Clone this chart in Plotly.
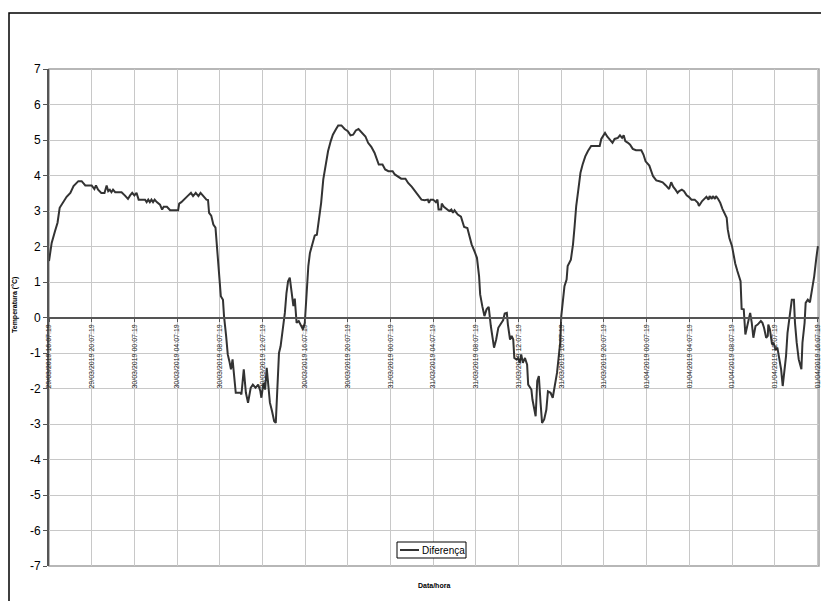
import plotly.graph_objects as go
from datetime import datetime, timedelta

# hours elapsed since 29/03/2019 16:07:19
hours = [0.0, 0.25, 0.56, 0.8, 1.0, 1.35, 1.65, 2.0, 2.3, 2.75, 3.06, 3.4, 4.0, 4.25, 4.4, 4.6, 4.9, 5.2, 5.4, 5.55,
         5.7, 5.85, 6.0, 6.2, 6.8, 7.1, 7.4, 7.6, 7.8, 8.0, 8.2, 8.4, 9.0, 9.15, 9.3, 9.45, 9.6, 9.75, 9.9, 10.1,
         10.4, 10.6, 10.75, 11.05, 11.35, 12.1, 12.2, 12.4, 12.75, 13.05, 13.3, 13.5, 13.75, 14.0, 14.2, 14.5, 14.75, 14.9, 15.0, 15.2,
         15.4, 15.6, 15.8, 15.95, 16.1, 16.3, 16.4, 16.6, 16.75, 16.9, 17.05, 17.2, 17.3, 17.5, 17.8, 17.95, 18.03, 18.25, 18.45, 18.65,
         18.9, 19.1, 19.35, 19.6, 19.8, 19.9, 20.1, 20.25, 20.4, 20.55, 20.7, 20.9, 21.1, 21.25, 21.4, 21.55, 21.7, 21.9, 22.1, 22.25,
         22.4, 22.56, 22.7, 22.9, 23.03, 23.2, 23.4, 23.6, 23.8, 23.97, 24.1, 24.3, 24.45, 24.7, 24.9, 25.1, 25.3, 25.5, 25.7, 25.9,
         26.15, 26.4, 26.6, 26.9, 27.1, 27.4, 27.7, 28.0, 28.25, 28.5, 28.75, 29.0, 29.2, 29.4, 29.65, 29.9, 30.2, 30.5, 30.75, 30.9,
         31.25, 31.5, 31.8, 32.2, 32.4, 32.7, 33.0, 33.4, 33.65, 34.0, 34.3, 34.6, 34.9, 35.2, 35.5, 35.6, 35.75, 36.0, 36.25, 36.4,
         36.5, 36.75, 36.8, 37.0, 37.25, 37.5, 37.7, 37.85, 38.0, 38.3, 38.6, 38.9, 39.2, 39.4, 39.6, 39.9, 40.1, 40.3, 40.4, 40.6,
         40.8, 41.0, 41.2, 41.4, 41.7, 41.9, 42.1, 42.4, 42.55, 42.7, 42.9, 43.0, 43.2, 43.35, 43.5, 43.6, 43.8, 43.95, 44.1, 44.25,
         44.4, 44.6, 44.8, 44.9, 45.2, 45.3, 45.6, 45.75, 45.9, 46.06, 46.2, 46.4, 46.6, 46.75, 47.0, 47.2, 47.4, 47.6, 47.75, 47.9,
         48.0, 48.15, 48.3, 48.5, 48.6, 48.9, 49.1, 49.25, 49.4, 49.6, 49.8, 50.0, 50.25, 50.5, 50.8, 51.2, 51.6, 51.75, 52.1, 52.3,
         52.5, 52.8, 53.0, 53.3, 53.5, 53.7, 53.85, 54.0, 54.25, 54.45, 54.7, 55.0, 55.5, 55.7, 55.9, 56.25, 56.6, 56.9, 57.2, 57.5,
         57.8, 58.1, 58.3, 58.5, 58.7, 58.9, 59.05, 59.3, 59.5, 59.75, 59.95, 60.2, 60.5, 60.65, 60.8, 60.9, 61.05, 61.2, 61.5, 61.6,
         61.8, 61.9, 62.1, 62.2, 62.4, 62.5, 62.7, 62.9, 63.1, 63.3, 63.5, 63.6, 63.75, 64.0, 64.1, 64.3, 64.5, 64.8, 64.9, 65.1,
         65.25, 65.5, 65.7, 65.85, 66.0, 66.2, 66.4, 66.7, 66.85, 67.0, 67.2, 67.35, 67.4, 67.55, 67.75, 67.9, 68.06, 68.25, 68.4, 68.6,
         68.75, 68.9, 69.06, 69.2, 69.4, 69.6, 69.8, 69.9, 70.06, 70.25, 70.5, 70.6, 70.8, 70.9, 71.1, 71.3, 71.5, 71.7, 71.9, 72.05]

diferenca = [1.59, 2.1, 2.43, 2.67, 3.09, 3.28, 3.4, 3.51, 3.7, 3.84, 3.84, 3.72, 3.72, 3.62, 3.72, 3.6, 3.51, 3.51, 3.72, 3.56,
             3.6, 3.53, 3.6, 3.53, 3.53, 3.44, 3.34, 3.44, 3.51, 3.44, 3.51, 3.32, 3.32, 3.25, 3.32, 3.25, 3.32, 3.25, 3.32, 3.25,
             3.18, 3.04, 3.12, 3.12, 3.02, 3.02, 3.21, 3.25, 3.34, 3.44, 3.51, 3.42, 3.51, 3.42, 3.51, 3.4, 3.32, 3.31, 2.95, 2.87,
             2.62, 2.53, 1.82, 1.26, 0.6, 0.5, 0.04, -0.53, -1.04, -1.23, -1.46, -1.18, -1.56, -2.12, -2.12, -2.12, -2.17, -1.46, -2.12, -2.4,
             -1.98, -1.89, -1.98, -1.89, -2.07, -2.26, -1.84, -2.03, -1.42, -1.93, -2.4, -2.64, -2.92, -2.97, -1.93, -1.0, -0.81, -0.34, 0.13, 0.69,
             1.02, 1.12, 0.79, 0.32, 0.53, -0.15, -0.1, -0.2, -0.34, -0.15, 0.6, 1.45, 1.82, 2.1, 2.31, 2.33, 2.76, 3.23, 3.89, 4.26,
             4.69, 4.97, 5.15, 5.31, 5.41, 5.41, 5.31, 5.25, 5.13, 5.15, 5.27, 5.31, 5.25, 5.18, 5.1, 4.92, 4.81, 4.64, 4.45, 4.31,
             4.31, 4.17, 4.12, 4.12, 4.03, 3.98, 3.91, 3.91, 3.79, 3.68, 3.56, 3.46, 3.32, 3.3, 3.32, 3.23, 3.32, 3.32, 3.25, 3.32,
             3.04, 3.04, 3.21, 3.12, 3.06, 3.0, 3.04, 2.95, 3.02, 2.9, 2.84, 2.55, 2.52, 2.24, 2.06, 1.84, 1.68, 1.16, 0.65, 0.32,
             0.04, 0.23, 0.3, -0.24, -0.85, -0.62, -0.29, -0.15, -0.08, 0.11, 0.13, -0.2, -0.62, -0.52, -0.62, -1.14, -1.18, -1.14, -1.28, -1.04,
             -1.28, -1.14, -1.33, -1.89, -2.03, -2.31, -2.78, -1.79, -1.65, -2.4, -2.97, -2.87, -2.6, -2.08, -2.12, -2.26, -1.93, -1.56, -1.14, -0.71,
             0.04, 0.5, 0.88, 1.07, 1.45, 1.63, 2.06, 2.57, 3.14, 3.6, 4.08, 4.31, 4.54, 4.69, 4.83, 4.83, 4.83, 5.03, 5.2, 5.1,
             5.03, 4.92, 5.03, 5.06, 5.13, 5.06, 5.13, 4.97, 4.92, 4.87, 4.75, 4.71, 4.71, 4.59, 4.4, 4.28, 3.98, 3.86, 3.84, 3.81,
             3.72, 3.62, 3.81, 3.68, 3.6, 3.51, 3.56, 3.6, 3.56, 3.44, 3.4, 3.32, 3.32, 3.28, 3.23, 3.14, 3.23, 3.28, 3.37, 3.4,
             3.32, 3.42, 3.34, 3.42, 3.34, 3.42, 3.34, 3.23, 3.06, 2.93, 2.81, 2.48, 2.24, 2.01, 1.82, 1.52, 1.31, 1.02, 0.24, 0.23,
             -0.48, -0.1, 0.13, -0.15, -0.57, -0.24, -0.2, -0.1, -0.15, -0.29, -0.57, -0.52, -0.2, -0.34, -0.76, -0.71, -0.9, -0.85, -1.09, -1.46,
             -1.93, -1.56, -1.09, -0.43, 0.04, 0.5, 0.5, -0.15, -0.71, -1.18, -1.46, -0.71, -0.15, 0.41, 0.5, 0.43, 0.79, 1.16, 1.68, 2.01]

y_tick_values = list(range(-7, 8))
y_tick_labels = [str(v) for v in y_tick_values]
series_name = "Diferença"

start = datetime(2019, 3, 29, 16, 7, 19)
x_times = [start + timedelta(hours=h) for h in hours]

FONT = "Liberation Sans, Arial, sans-serif"

# page offset (browser body margin) compensation: target coords are page coords
OFF = 8
W, H = 829, 601
PL, PR, PT, PB = 49, 819, 69, 566          # plot area in page coords
pw, ph = PR - PL, PB - PT
L = PL - OFF
T = PT - OFF
R = W - (PR - OFF)
B = H - (PB - OFF)


def px(xp):
    return (xp - PL) / pw


def py(yp):
    return (PB - yp) / ph


fig = go.Figure()
fig.add_trace(go.Scatter(x=x_times, y=diferenca, mode="lines", name=series_name,
                         line=dict(color="#333333", width=2), showlegend=False))

fig.update_layout(
    width=W, height=H,
    margin=dict(l=L, r=R, t=T, b=B, autoexpand=False),
    paper_bgcolor="white", plot_bgcolor="white",
    font=dict(family=FONT, color="black"),
    showlegend=False,
    xaxis=dict(
        type="date",
        range=[start, start + timedelta(hours=72.15)],
        tick0=start, dtick=4 * 3600 * 1000,
        tickformat="%d/%m/%Y %H:%M:%S",
        tickangle=-90,
        tickfont=dict(size=7, family=FONT, color="#222222"),
        anchor="free", position=0.5,
        showline=True, linecolor="#555555", linewidth=2,
        ticks="outside", ticklen=3, tickcolor="#555555",
        showgrid=True, gridcolor="#c8c8c8", gridwidth=1,
        zeroline=False,
    ),
    yaxis=dict(
        range=[-7, 7], tickvals=y_tick_values, ticktext=y_tick_labels,
        tickfont=dict(size=12, family=FONT, color="black"),
        showline=True, linecolor="#555555", linewidth=2,
        ticks="outside", ticklen=4, tickcolor="#555555",
        showgrid=True, gridcolor="#c8c8c8", gridwidth=1,
        zeroline=False,
    ),
    shapes=[
        dict(type="rect", xref="paper", yref="paper", x0=0, x1=1, y0=0, y1=1,
             line=dict(color="#a0a0a0", width=1.5), layer="below"),
        dict(type="rect", xref="paper", yref="paper",
             x0=px(9), x1=px(845), y0=py(612), y1=py(13),
             line=dict(color="black", width=1.5)),
        # legend box and sample line
        dict(type="rect", xref="paper", yref="paper",
             x0=px(397), x1=px(466), y0=py(558), y1=py(542),
             line=dict(color="black", width=1), fillcolor="white"),
        dict(type="line", xref="paper", yref="paper",
             x0=px(400), x1=px(419), y0=py(550), y1=py(550),
             line=dict(color="#333333", width=2)),
    ],
    annotations=[
        dict(text="<b>Temperatura (°C)</b>", xref="paper", yref="paper",
             x=px(15), y=py(305), xanchor="center", yanchor="middle",
             textangle=-90, showarrow=False,
             font=dict(size=7, family=FONT, color="black")),
        dict(text="<b>Data/hora</b>", xref="paper", yref="paper",
             x=px(434), y=py(585), xanchor="center", yanchor="middle", showarrow=False,
             font=dict(size=7, family=FONT, color="black")),
        dict(text=series_name, xref="paper", yref="paper",
             x=px(420), y=py(550), xanchor="left", yanchor="middle", showarrow=False,
             font=dict(size=10, family=FONT, color="black")),
    ],
)

fig.write_html("out.html")
